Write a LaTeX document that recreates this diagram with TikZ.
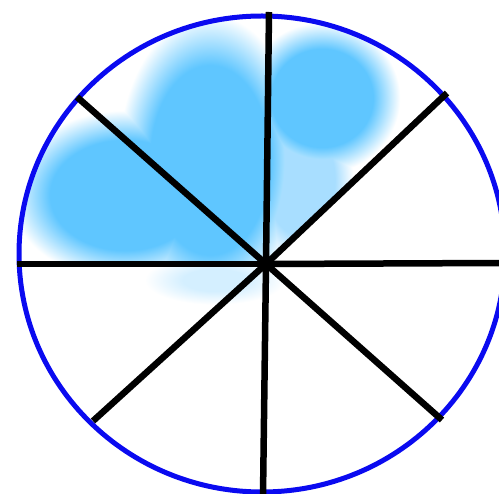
\documentclass[tikz,border=0pt]{standalone}
\usepackage{xcolor}
\definecolor{WheelRim}{HTML}{0A0AF0}
\definecolor{WheelSky}{HTML}{5FC6FF}
\definecolor{WheelPale}{HTML}{A8DEFF}
\definecolor{WheelMist}{HTML}{D4EFFF}
\pgfdeclareradialshading{blobshade}{\pgfpointorigin}{color(0bp)=(WheelSky); color(15bp)=(WheelSky); color(23bp)=(white); color(50bp)=(white)}
\pgfdeclareradialshading{paleshade}{\pgfpointorigin}{color(0bp)=(WheelPale); color(15bp)=(WheelPale); color(23bp)=(white); color(50bp)=(white)}
\pgfdeclareradialshading{mistshade}{\pgfpointorigin}{color(0bp)=(WheelMist); color(10bp)=(WheelMist); color(22bp)=(white); color(50bp)=(white)}

\begin{document}
\begin{tikzpicture}[
  x=1pt,y=-1pt,
  rim/.style={draw=WheelRim,line width=5pt},
  spoke/.style={draw=black,line width=6.5pt},
  blob/.style={shading=blobshade},
  paleblob/.style={shading=paleshade},
  mistblob/.style={shading=mistshade},
]
\useasboundingbox (0,0) rectangle (499,494);
\coordinate (hub) at (266,264);
\coordinate (top) at (269,12);
\coordinate (bottom) at (263,496);
\coordinate (left) at (17,264);
\coordinate (right) at (502,263);
\coordinate (upleft) at (77,97);
\coordinate (upright) at (447,93);
\coordinate (lowleft) at (93,421);
\coordinate (lowright) at (442,420);
% shaded part, three sectors
\begin{scope}[blend mode=darken]
  \clip (262,254) ellipse [x radius=243,y radius=238];
  \shade[mistblob] (215,280) ellipse [x radius=80,y radius=28];
  \clip (hub) -- (0,264) -- (0,0) -- (545,0) -- cycle;
  \shade[blob] (125,195) ellipse [x radius=125,y radius=92];
  \shade[blob] (210,160) ellipse [x radius=100,y radius=158];
  \shade[blob] (322,98) ellipse [x radius=85,y radius=82];
  \shade[paleblob] (300,180) ellipse [x radius=58,y radius=92];
\end{scope}
\draw[rim] (262,254) ellipse [x radius=243,y radius=238];
\foreach \rimpt in {top,bottom,left,right,upleft,upright,lowleft,lowright}
  \draw[spoke] (hub) -- (\rimpt);
\end{tikzpicture}
\end{document}
